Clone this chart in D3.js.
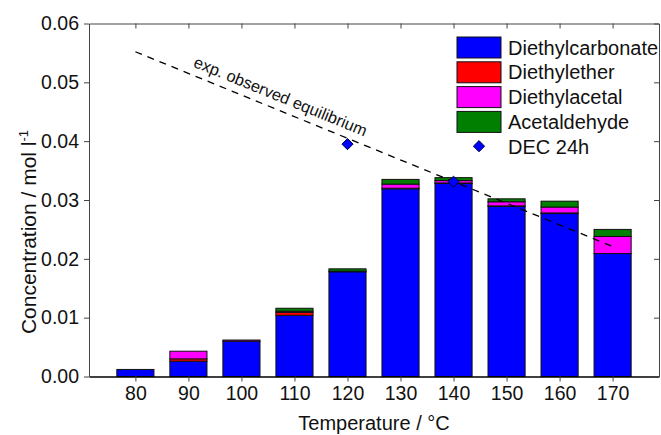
<!DOCTYPE html>
<html>
<head>
<meta charset="utf-8">
<script src="https://cdn.jsdelivr.net/npm/d3@7"></script>
<style>
  body { margin: 0; background: #fff; }
  text { font-family: "Liberation Sans", Arial, sans-serif; fill: #111; }
</style>
</head>
<body>
<div id="chart"></div>
<script>
// data
var temps = [80, 90, 100, 110, 120, 130, 140, 150, 160, 170];
var dec = [0.0012, 0.0026, 0.0060, 0.0104, 0.0178, 0.0319, 0.0328, 0.0289, 0.0277, 0.0209];
var ether = [0, 0.0004, 0, 0.0005, 0, 0.0001, 0.0001, 0.0001, 0.0001, 0];
var acetal = [0, 0.0013, 0.0002, 0.0002, 0.0001, 0.0007, 0.0004, 0.0007, 0.0010, 0.0029];
var acetaldehyde = [0, 0, 0, 0.0005, 0.0004, 0.0008, 0.0005, 0.0005, 0.0010, 0.0012];

var dec24Temps = [120, 140];
var dec24Values = [0.0395, 0.0331];

var eqTemps = [80, 170];
var eqValues = [0.0552, 0.0221];

var yTicks = [0, 0.01, 0.02, 0.03, 0.04, 0.05, 0.06];
var seriesNames = ["Diethylcarbonate", "Diethylether", "Diethylacetal", "Acetaldehyde"];
var seriesColors = ["#0000ff", "#ff0000", "#ff00ff", "#007f00"];

// dimensions
var W = 661, H = 435;
var margin = {top: 23.5, right: 2, bottom: 58.5, left: 89},
    width = W - margin.left - margin.right,
    height = H - margin.top - margin.bottom;

var svg = d3.select("#chart").append("svg")
    .attr("width", W)
    .attr("height", H)
  .append("g")
    .attr("transform", "translate(" + margin.left + "," + margin.top + ")");

var x = d3.scaleLinear().domain([71.25, 178.75]).range([0, width]);
var y = d3.scaleLinear().domain([0, 0.06]).range([height, 0]);
var barW = x(77) - x(70);

// stacked table
var table = temps.map(function(t, i) {
  return {temp: t, Diethylcarbonate: dec[i], Diethylether: ether[i], Diethylacetal: acetal[i], Acetaldehyde: acetaldehyde[i]};
});
var stacked = d3.stack().keys(seriesNames)(table);

svg.selectAll(".layer")
  .data(stacked)
  .enter().append("g")
    .attr("fill", function(d, i) { return seriesColors[i]; })
  .selectAll("rect")
  .data(function(d) { return d.filter(function(p) { return p[1] - p[0] > 0; }); })
  .enter().append("rect")
    .attr("x", function(d) { return x(d.data.temp) - barW / 2; })
    .attr("width", barW)
    .attr("y", function(d) { return y(d[1]); })
    .attr("height", function(d) { return y(d[0]) - y(d[1]); })
    .attr("stroke", "#111")
    .attr("stroke-width", 1);

// equilibrium line
var eq = eqTemps.map(function(t, i) { return [t, eqValues[i]]; });
svg.append("path")
  .datum(eq)
  .attr("fill", "none")
  .attr("stroke", "#000")
  .attr("stroke-width", 1.3)
  .attr("stroke-dasharray", "7,6")
  .attr("d", d3.line().x(function(d) { return x(d[0]); }).y(function(d) { return y(d[1]); }));

var ang = Math.atan2(y(eqValues[1]) - y(eqValues[0]), x(eqTemps[1]) - x(eqTemps[0])) * 180 / Math.PI;
var tStart = 90.2;
var vStart = eqValues[0] + (eqValues[1] - eqValues[0]) * (tStart - eqTemps[0]) / (eqTemps[1] - eqTemps[0]);
svg.append("text")
  .attr("transform", "translate(" + x(tStart) + "," + y(vStart) + ") rotate(" + ang + ") translate(0,-8)")
  .style("font-size", "16.3px")
  .text("exp. observed equilibrium");

// DEC 24h diamonds
var diamond = d3.symbol().type(d3.symbolDiamond2).size(80);
svg.selectAll(".dec24")
  .data(dec24Temps)
  .enter().append("path")
    .attr("d", diamond)
    .attr("transform", function(d, i) { return "translate(" + x(d) + "," + y(dec24Values[i]) + ")"; })
    .attr("fill", "#0000ff")
    .attr("stroke", "#000040")
    .attr("stroke-width", 1);

// axes
var axBottom = svg.append("g")
  .attr("transform", "translate(0," + height + ")")
  .call(d3.axisBottom(x).tickValues(temps).tickSize(5).tickSizeOuter(0).tickPadding(5));
var axLeft = svg.append("g")
  .call(d3.axisLeft(y).tickValues(yTicks).tickFormat(d3.format(".2f")).tickSize(5).tickSizeOuter(0).tickPadding(5));
var axTop = svg.append("g")
  .call(d3.axisBottom(x).tickValues(temps).tickSize(5).tickSizeOuter(0).tickFormat(""));
var axRight = svg.append("g")
  .attr("transform", "translate(" + width + ",0)")
  .call(d3.axisLeft(y).tickValues(yTicks).tickSize(5).tickSizeOuter(0).tickFormat(""));

[axBottom, axLeft, axTop, axRight].forEach(function(a) {
  a.selectAll("path").attr("stroke", "#444");
  a.selectAll("line").attr("stroke", "#444");
  a.selectAll("text").style("font-size", "19.5px").style("font-family", "Liberation Sans, Arial, sans-serif").attr("fill", "#111");
});
axBottom.select("path").attr("stroke", "#000").attr("stroke-width", 1.6);

// axis titles
svg.append("text")
  .attr("x", x(125))
  .attr("y", height + 53)
  .attr("text-anchor", "middle")
  .style("font-size", "20px")
  .text("Temperature / \u00B0C");

var yt = svg.append("text")
  .attr("transform", "translate(" + (-53) + "," + (232 - margin.top) + ") rotate(-90)")
  .attr("text-anchor", "middle")
  .style("font-size", "21px");
yt.append("tspan").text("Concentration / mol l");
yt.append("tspan").attr("dy", "-8").style("font-size", "13px").text("-1");

// legend
var lg = svg.append("g").attr("transform", "translate(" + (457 - margin.left) + "," + (37 - margin.top) + ")");
seriesNames.forEach(function(name, i) {
  lg.append("rect")
    .attr("x", 0).attr("y", i * 24.8)
    .attr("width", 44).attr("height", 21)
    .attr("fill", seriesColors[i])
    .attr("stroke", "#111");
  lg.append("text")
    .attr("x", 51).attr("y", i * 24.8 + 17.5)
    .style("font-size", "20px")
    .text(name);
});
lg.append("path")
  .attr("d", diamond)
  .attr("transform", "translate(22," + (4 * 24.8 + 10) + ")")
  .attr("fill", "#0000ff")
  .attr("stroke", "#000040");
lg.append("text")
  .attr("x", 51).attr("y", 4 * 24.8 + 17.5)
  .style("font-size", "20px")
  .text("DEC 24h");
</script>
</body>
</html>
